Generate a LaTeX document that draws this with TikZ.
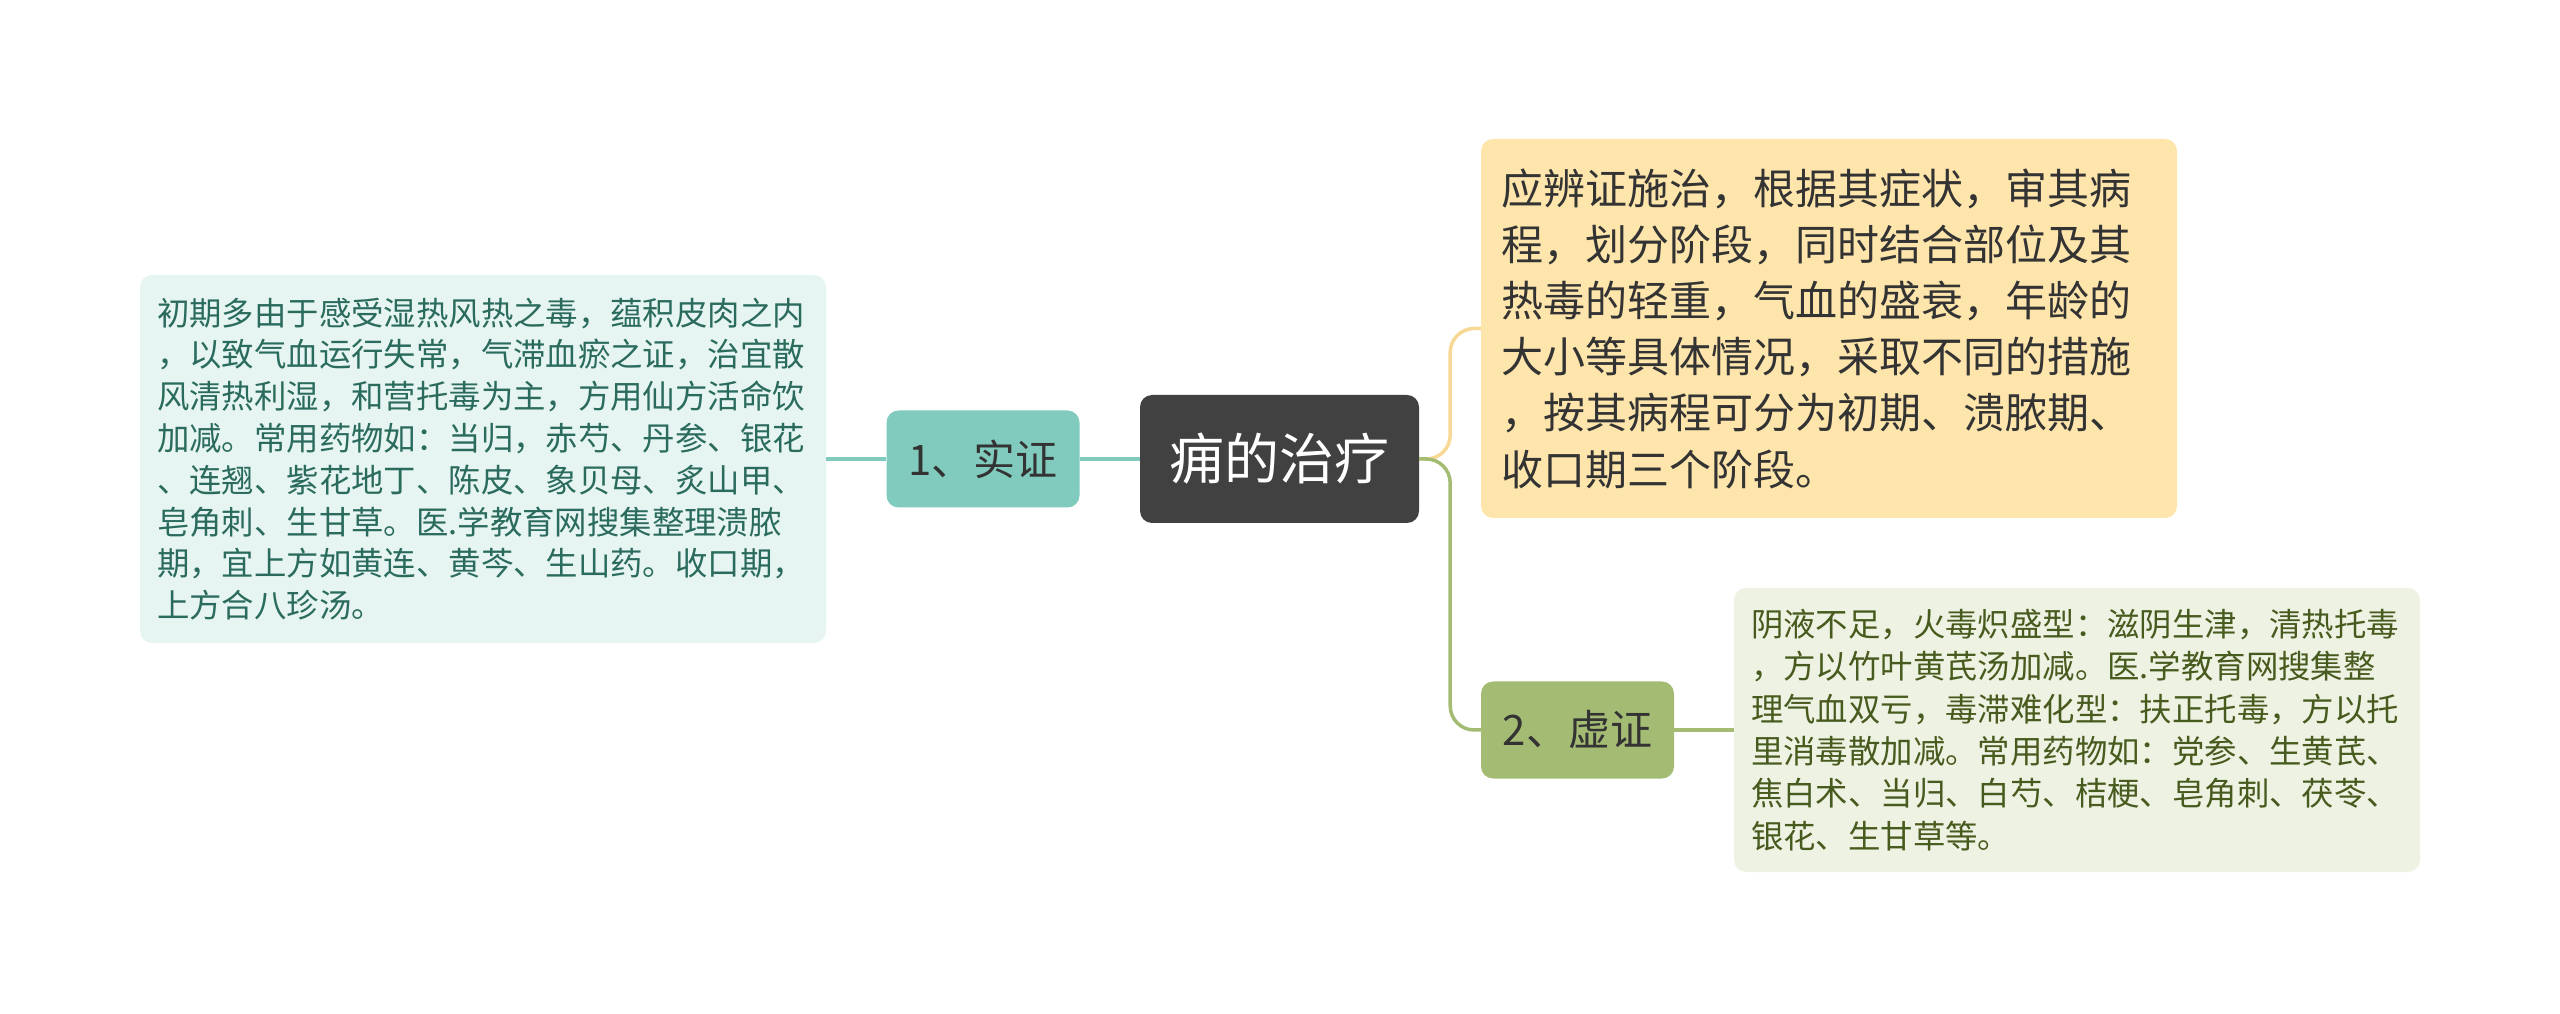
\documentclass[tikz,border=0pt]{standalone}
\usepackage{fontspec}
\setmainfont{Noto Sans CJK SC}
\definecolor{rootfill}{HTML}{414141}
\definecolor{tealfill}{HTML}{80CBBD}
\definecolor{tealbox}{HTML}{E6F5F1}
\definecolor{tealtext}{HTML}{2A6B5D}
\definecolor{yelfill}{HTML}{FEE5AC}
\definecolor{yelline}{HTML}{F7D995}
\definecolor{olivefill}{HTML}{A3BB73}
\definecolor{olivebox}{HTML}{EEF2E3}
\definecolor{olivetext}{HTML}{485B1E}
\definecolor{darktext}{HTML}{333333}
\tikzset{
  rootnode/.style={draw=none, fill=rootfill, rounded corners=12pt, text=white,
    minimum width=279pt, minimum height=128pt, inner sep=0pt,
    font=\fontsize{55}{60}\selectfont},
  branchnode/.style={draw=none, rounded corners=12pt, text=darktext,
    minimum width=193pt, minimum height=97pt, inner sep=0pt,
    font=\fontsize{42}{50}\selectfont},
  leafbox/.style={draw=none, rounded corners=12pt, align=left, inner ysep=10pt},
  conn/.style={line width=3.5pt}
}
\begin{document}
\begin{tikzpicture}[x=1pt,y=1pt]
\useasboundingbox (0,0) rectangle (2560,1013);
% root
\node[rootnode] (root) at (1279.5,554) {痈的治疗};
% left branch
\node[branchnode, fill=tealfill] (shi) at (983,554) {1、实证};
\node[leafbox, fill=tealbox, text=tealtext, minimum width=686pt, minimum height=368pt,
  text width=652pt, inner xsep=17pt, font=\fontsize{32.4}{41.8}\selectfont] (lbox) at (483,554)
  {初期多由于感受湿热风热之毒，蕴积皮肉之内\\
  ，以致气血运行失常，气滞血瘀之证，治宜散\\
  风清热利湿，和营托毒为主，方用仙方活命饮\\
  加减。常用药物如：当归，赤芍、丹参、银花\\
  、连翘、紫花地丁、陈皮、象贝母、炙山甲、\\
  皂角刺、生甘草。医.学教育网搜集整理溃脓\\
  期，宜上方如黄连、黄芩、生山药。收口期，\\
  上方合八珍汤。};
% top right leaf
\node[leafbox, fill=yelfill, text=darktext, minimum width=696pt, minimum height=379pt,
  text width=656pt, inner xsep=20pt, font=\fontsize{42}{56.2}\selectfont] (tbox) at (1829,684.5)
  {应辨证施治，根据其症状，审其病\\
  程，划分阶段，同时结合部位及其\\
  热毒的轻重，气血的盛衰，年龄的\\
  大小等具体情况，采取不同的措施\\
  ，按其病程可分为初期、溃脓期、\\
  收口期三个阶段。};
% bottom right branch
\node[branchnode, fill=olivefill] (xu) at (1577.5,283) {2、虚证};
\node[leafbox, fill=olivebox, text=olivetext, minimum width=686pt, minimum height=284pt,
  text width=652pt, inner xsep=17pt, font=\fontsize{32.4}{42.4}\selectfont] (bbox) at (2077,283)
  {阴液不足，火毒炽盛型：滋阴生津，清热托毒\\
  ，方以竹叶黄芪汤加减。医.学教育网搜集整\\
  理气血双亏，毒滞难化型：扶正托毒，方以托\\
  里消毒散加减。常用药物如：党参、生黄芪、\\
  焦白术、当归、白芍、桔梗、皂角刺、茯苓、\\
  银花、生甘草等。};
% connectors
\draw[conn, tealfill] (root.west) -- (shi.east);
\draw[conn, tealfill] (shi.west) -- (lbox.east);
\draw[conn, yelline, rounded corners=24pt] (root.east) -- ++(31,0) |- (tbox.west);
\draw[conn, olivefill, rounded corners=24pt] (root.east) -- ++(31,0) |- (xu.west);
\draw[conn, olivefill] (xu.east) -- (bbox.west);
\end{tikzpicture}
\end{document}
